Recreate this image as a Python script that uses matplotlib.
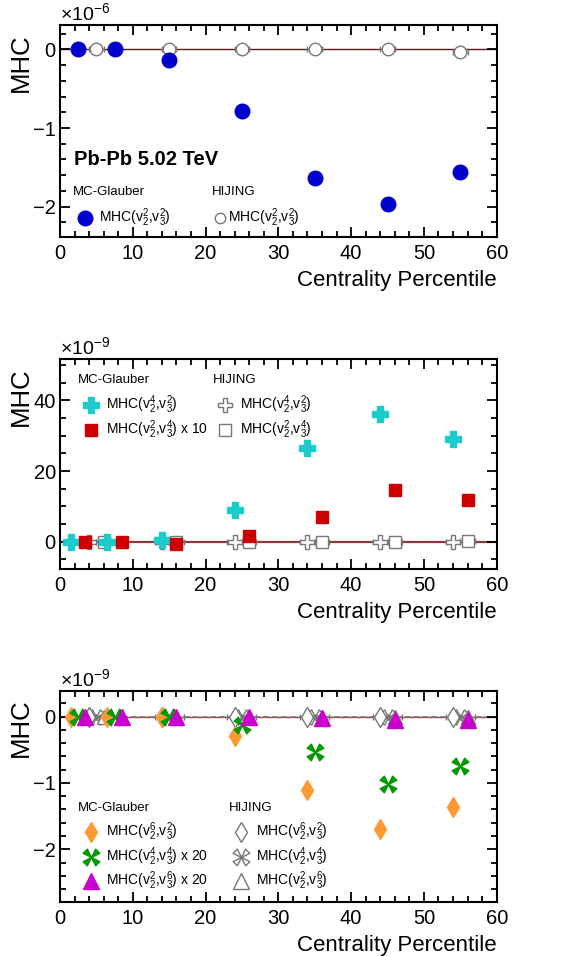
import matplotlib
matplotlib.use("Agg")
import matplotlib.pyplot as plt
import numpy as np
from matplotlib.path import Path
from matplotlib.ticker import MultipleLocator

plt.rcParams["font.family"] = ["Liberation Sans", "DejaVu Sans"]
plt.rcParams["mathtext.fontset"] = "custom"
plt.rcParams["mathtext.rm"] = "Liberation Sans"
plt.rcParams["mathtext.it"] = "Liberation Sans:italic"

# Centrality bin centres
cent_glauber = np.array([2.5, 7.5, 15, 25, 35, 45, 55])
cent_hijing = np.array([5, 15, 25, 35, 45, 55])
shift = 1.0
hijing_xerr = 1.0

# Panel 1 (x 1e-6)
p1_glauber = [0.01, 0.0, -0.14, -0.79, -1.64, -1.97, -1.56]
p1_hijing = [0.0, 0.0, 0.0, 0.0, 0.0, -0.03]

# Panel 2 (x 1e-9)
p2_glauber_42 = [0.0, 0.0, 0.5, 9.0, 26.5, 36.1, 29.0]
p2_glauber_24 = [0.0, 0.0, -0.5, 1.6, 6.9, 14.6, 11.8]   # x 10
p2_hijing_42 = [0.0, 0.0, 0.0, 0.0, 0.0, 0.0]
p2_hijing_24 = [0.0, 0.0, 0.0, 0.0, 0.0, 0.2]

# Panel 3 (x 1e-9)
p3_glauber_62 = [0.0, 0.0, 0.0, -0.29, -1.11, -1.70, -1.36]
p3_glauber_44 = [0.0, 0.0, 0.0, -0.12, -0.54, -1.02, -0.75]  # x 20
p3_glauber_26 = [0.0, 0.0, 0.0, 0.0, -0.02, -0.05, -0.05]    # x 20
p3_hijing_62 = [0.0, 0.0, 0.0, 0.0, 0.0, 0.0]
p3_hijing_44 = [0.0, 0.0, 0.0, 0.0, 0.0, 0.0]
p3_hijing_26 = [0.0, 0.0, 0.0, 0.0, 0.0, 0.0]

blue = "#0000cc"
cyan = "#1ccccc"
red = "#cc0000"
orange = "#ff9933"
green = "#009900"
magenta = "#cc00cc"
grey = "#777777"

# four triangles X marker (ROOT style 40/41)
verts, codes = [], []
for sx, sy in [(1, 1), (-1, 1), (-1, -1), (1, -1)]:
    verts += [(0, 0), (sx * 1.0, sy * 0.5), (sx * 0.5, sy * 1.0), (0, 0)]
    codes += [Path.MOVETO, Path.LINETO, Path.LINETO, Path.CLOSEPOLY]
four_tri_x = Path(verts, codes)

fig = plt.figure(figsize=(5.84, 9.57), dpi=100)
ax_pos = [
    [0.1027, 0.752, 0.7478, 0.2219],
    [0.1027, 0.4051, 0.7478, 0.2195],
    [0.1027, 0.0578, 0.7478, 0.2205],
]
ylims = [(-2.39, 0.31), (-7.8, 51.6), (-2.79, 0.39)]
ymajor = [1, 20, 1]
yminor = [0.2, 5, 0.2]
scales = [r"$\times10^{-6}$", r"$\times10^{-9}$", r"$\times10^{-9}$"]

axes = []
for i in range(3):
    ax = fig.add_axes(ax_pos[i])
    ax.set_xlim(0, 60)
    ax.set_ylim(*ylims[i])
    ax.xaxis.set_major_locator(MultipleLocator(10))
    ax.xaxis.set_minor_locator(MultipleLocator(2))
    ax.yaxis.set_major_locator(MultipleLocator(ymajor[i]))
    ax.yaxis.set_minor_locator(MultipleLocator(yminor[i]))
    ax.tick_params(which="both", direction="in", top=True, right=True,
                   width=1.3, labelsize=14.5)
    ax.tick_params(which="major", length=7)
    ax.tick_params(which="minor", length=4)
    ax.tick_params(axis="y", pad=3)
    ax.tick_params(axis="x", pad=5)
    for s in ax.spines.values():
        s.set_linewidth(1.5)
    ax.yaxis.set_major_formatter(plt.FuncFormatter(
        lambda v, pos: f"{v:g}".replace("-", "\u2212")))
    ax.set_xlabel("Centrality Percentile", fontsize=16, loc="right", labelpad=5)
    ax.set_ylabel("MHC", fontsize=18.5, loc="top")
    ax.yaxis.set_label_coords(-0.062, 0.962)
    ax.text(0.0, 1.005, scales[i], transform=ax.transAxes, fontsize=14,
            ha="left", va="bottom")
    axes.append(ax)


def legend_entry(ax, x, y, text, tx, **kw):
    ax.plot([x], [y], transform=ax.transAxes, clip_on=False, linestyle="none", **kw)
    ax.text(tx, y, text, transform=ax.transAxes, fontsize=10, va="center", ha="left")


# ---- Panel 1 ----
ax = axes[0]
ax.axhline(0, color="#5a1a1a", lw=1.0, zorder=1)
ax.errorbar(cent_hijing, p1_hijing, xerr=hijing_xerr, fmt="o", mfc="white", mec=grey,
            ecolor=grey, ms=9, mew=1.0, capsize=2.5, elinewidth=1.0, zorder=3)
ax.plot(cent_glauber, p1_glauber, "o", color=blue, ms=10.5, linestyle="none", zorder=4)
ax.text(0.032, 0.366, "Pb-Pb 5.02 TeV", transform=ax.transAxes, fontsize=14.5,
        fontweight="bold", va="center")
ax.text(0.030, 0.213, "MC-Glauber", transform=ax.transAxes, fontsize=9.5, va="center")
ax.text(0.348, 0.213, "HIJING", transform=ax.transAxes, fontsize=9.5, va="center")
legend_entry(ax, 0.058, 0.091, r"MHC($\mathrm{v}_2^2$,$\mathrm{v}_3^2$)", 0.090,
             marker="o", color=blue, ms=10.5)
legend_entry(ax, 0.366, 0.091, r"MHC($\mathrm{v}_2^2$,$\mathrm{v}_3^2$)", 0.385,
             marker="o", mfc="white", mec=grey, ms=7.5, mew=1.0)

# ---- Panel 2 ----
ax = axes[1]
ax.axhline(0, color="#8b3a3a", lw=1.6, zorder=1)
ax.errorbar(cent_hijing - shift, p2_hijing_42, xerr=hijing_xerr, fmt="P", mfc="white",
            mec=grey, ecolor=grey, ms=9.5, mew=1.0, capsize=2.5, elinewidth=1.0, zorder=3)
ax.errorbar(cent_hijing + shift, p2_hijing_24, xerr=hijing_xerr, fmt="s", mfc="white",
            mec=grey, ecolor=grey, ms=8.5, mew=1.0, capsize=2.5, elinewidth=1.0, zorder=3)
ax.plot(cent_glauber - shift, p2_glauber_42, "P", color=cyan, ms=12,
        linestyle="none", zorder=4)
ax.plot(cent_glauber + shift, p2_glauber_24, "s", color=red, ms=8.5,
        linestyle="none", zorder=4)
ax.text(0.042, 0.901, "MC-Glauber", transform=ax.transAxes, fontsize=9.5, va="center")
ax.text(0.351, 0.901, "HIJING", transform=ax.transAxes, fontsize=9.5, va="center")
legend_entry(ax, 0.071, 0.782, r"MHC($\mathrm{v}_2^4$,$\mathrm{v}_3^2$)", 0.105,
             marker="P", color=cyan, ms=12)
legend_entry(ax, 0.071, 0.663, r"MHC($\mathrm{v}_2^2$,$\mathrm{v}_3^4$) x 10", 0.105,
             marker="s", color=red, ms=8.5)
legend_entry(ax, 0.379, 0.782, r"MHC($\mathrm{v}_2^4$,$\mathrm{v}_3^2$)", 0.412,
             marker="P", mfc="white", mec=grey, ms=9.5, mew=1.0)
legend_entry(ax, 0.379, 0.663, r"MHC($\mathrm{v}_2^2$,$\mathrm{v}_3^4$)", 0.412,
             marker="s", mfc="white", mec=grey, ms=8.5, mew=1.0)

# ---- Panel 3 ----
ax = axes[2]
ax.axhline(0, color="#aa3333", lw=1.0, zorder=1)
ax.axhline(0, color=grey, lw=1.2, ls="--", zorder=1.5)
ax.errorbar(cent_hijing - shift, p3_hijing_62, xerr=hijing_xerr, fmt="d", mfc="white",
            mec=grey, ecolor=grey, ms=10, mew=1.0, capsize=2.5, elinewidth=1.0, zorder=3)
ax.errorbar(cent_hijing, p3_hijing_44, xerr=hijing_xerr, fmt="none",
            ecolor=grey, capsize=2.5, elinewidth=1.0, zorder=3)
ax.plot(cent_hijing, p3_hijing_44, marker=four_tri_x, mfc="white", mec=grey, ms=11,
        mew=1.0, linestyle="none", zorder=3)
ax.errorbar(cent_hijing + shift, p3_hijing_26, xerr=hijing_xerr, fmt="^", mfc="white",
            mec=grey, ecolor=grey, ms=10, mew=1.0, capsize=2.5, elinewidth=1.0, zorder=3)
ax.plot(cent_glauber - shift, p3_glauber_62, "d", color=orange, ms=10,
        linestyle="none", zorder=4)
ax.plot(cent_glauber, p3_glauber_44, marker=four_tri_x, color=green, ms=12,
        linestyle="none", zorder=4)
ax.plot(cent_glauber + shift, p3_glauber_26, "^", color=magenta, ms=11,
        linestyle="none", zorder=4)
ax.text(0.042, 0.446, "MC-Glauber", transform=ax.transAxes, fontsize=9.5, va="center")
ax.text(0.387, 0.446, "HIJING", transform=ax.transAxes, fontsize=9.5, va="center")
legend_entry(ax, 0.071, 0.332, r"MHC($\mathrm{v}_2^6$,$\mathrm{v}_3^2$)", 0.105,
             marker="d", color=orange, ms=10)
legend_entry(ax, 0.071, 0.213, r"MHC($\mathrm{v}_2^4$,$\mathrm{v}_3^4$) x 20", 0.105,
             marker=four_tri_x, color=green, ms=12)
legend_entry(ax, 0.071, 0.100, r"MHC($\mathrm{v}_2^2$,$\mathrm{v}_3^6$) x 20", 0.105,
             marker="^", color=magenta, ms=11)
legend_entry(ax, 0.414, 0.332, r"MHC($\mathrm{v}_2^6$,$\mathrm{v}_3^2$)", 0.450,
             marker="d", mfc="white", mec=grey, ms=10, mew=1.0)
legend_entry(ax, 0.414, 0.213, r"MHC($\mathrm{v}_2^4$,$\mathrm{v}_3^4$)", 0.450,
             marker=four_tri_x, mfc="white", mec=grey, ms=12, mew=1.0)
legend_entry(ax, 0.414, 0.100, r"MHC($\mathrm{v}_2^2$,$\mathrm{v}_3^6$)", 0.450,
             marker="^", mfc="white", mec=grey, ms=12, mew=1.0)

fig.savefig("out.png", dpi=100)
